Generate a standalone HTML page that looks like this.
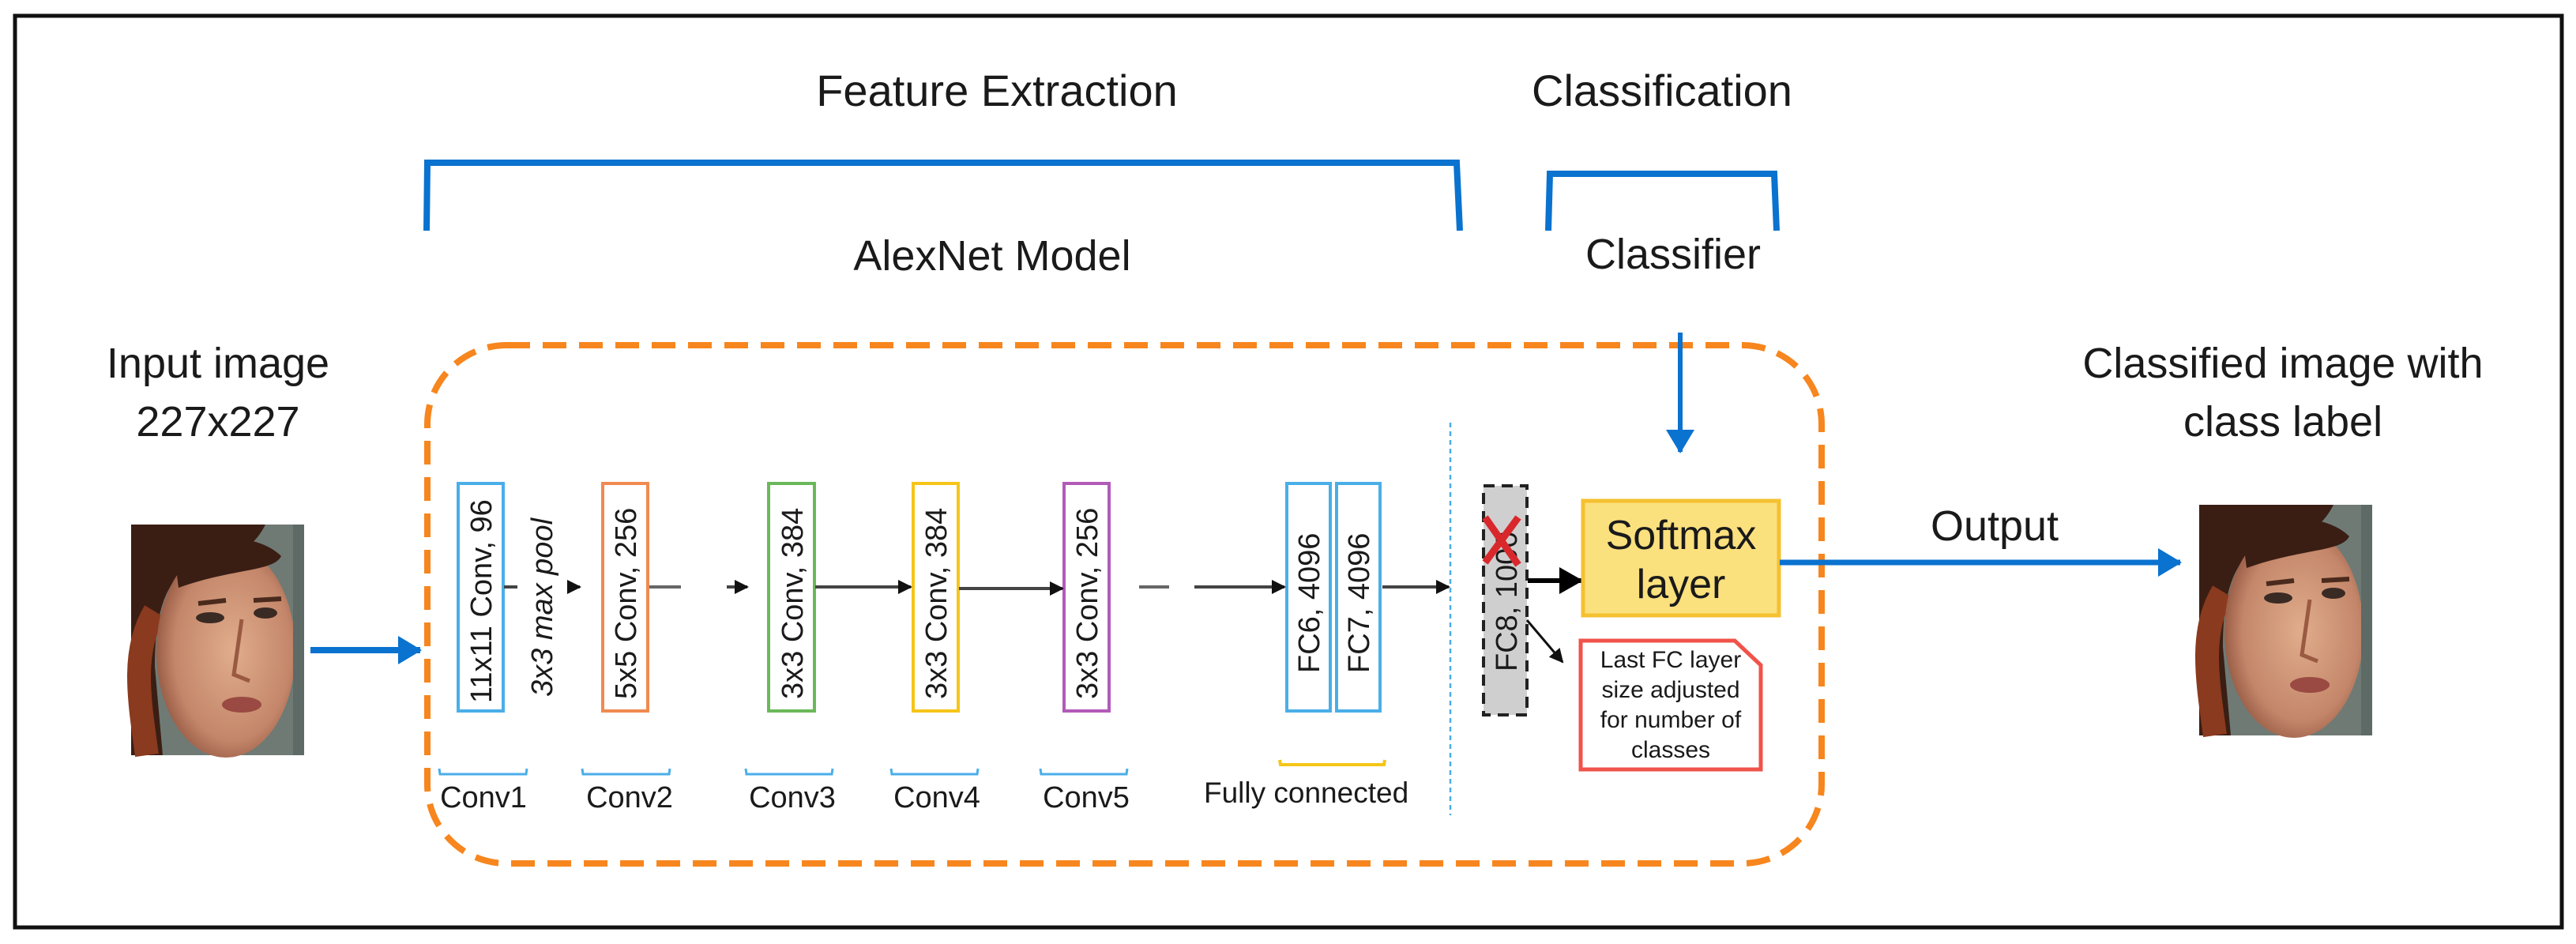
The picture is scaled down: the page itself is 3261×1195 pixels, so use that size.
<!DOCTYPE html>
<html><head><meta charset="utf-8"><style>
html,body{margin:0;padding:0;background:#fff;}
svg{display:block;}
text{font-family:"Liberation Sans",sans-serif;fill:#1a1a1a;}
</style></head><body>
<svg width="3261" height="1195" viewBox="0 0 3261 1195" xmlns="http://www.w3.org/2000/svg">
<defs>
<marker id="ab" markerWidth="10" markerHeight="10" refX="8" refY="5" orient="auto" markerUnits="userSpaceOnUse"><path d="M0,0 L10,5 L0,10 z" fill="#111"/></marker>
<marker id="abl" markerWidth="30" markerHeight="36" refX="28" refY="18" orient="auto" markerUnits="userSpaceOnUse"><path d="M0,0 L30,18 L0,36 z" fill="#0a72cf"/></marker>
<marker id="abk" markerWidth="30" markerHeight="34" refX="28" refY="17" orient="auto" markerUnits="userSpaceOnUse"><path d="M0,0 L30,17 L0,34 z" fill="#000"/></marker>
<marker id="ak" markerWidth="18" markerHeight="18" refX="16" refY="9" orient="auto" markerUnits="userSpaceOnUse"><path d="M0,0 L18,9 L0,18 z" fill="#111"/></marker>
<radialGradient id="skin" cx="0.55" cy="0.5" r="0.6"><stop offset="0" stop-color="#e0ad8c"/><stop offset="0.7" stop-color="#c4866a"/><stop offset="1" stop-color="#8a4f3a"/></radialGradient>
<g id="face">
<rect x="0" y="0" width="219" height="292" fill="#6f7a74"/>
<path d="M0,0 L170,0 C150,40 120,40 80,50 C40,70 30,120 30,180 L40,292 L0,292 z" fill="#3a1e14"/>
<path d="M20,292 C10,220 0,160 30,110" stroke="#8a3a1e" stroke-width="30" fill="none"/>
<ellipse cx="120" cy="160" rx="88" ry="135" fill="url(#skin)"/>
<path d="M55,40 C90,10 160,10 190,40 C180,60 130,55 60,80 z" fill="#3a1e14"/>
<ellipse cx="100" cy="118" rx="18" ry="7" fill="#3a2a24"/>
<ellipse cx="170" cy="112" rx="15" ry="7" fill="#3a2a24"/>
<path d="M85,100 L120,96" stroke="#4a2a1c" stroke-width="6"/>
<path d="M155,96 L190,94" stroke="#4a2a1c" stroke-width="6"/>
<path d="M140,120 L130,190 L150,198" stroke="#9a5a42" stroke-width="5" fill="none"/>
<ellipse cx="140" cy="228" rx="25" ry="10" fill="#9a4a42"/>
<rect x="205" y="0" width="14" height="292" fill="#5e6a66"/>
</g>
</defs>

<rect x="19" y="20" width="3224" height="1154" fill="none" stroke="#111" stroke-width="5"/>

<!-- titles -->
<text x="1262" y="134" font-size="56" text-anchor="middle">Feature Extraction</text>
<text x="2104" y="134" font-size="56" text-anchor="middle">Classification</text>
<path d="M540,292 L541,206 L1844,206 L1848,292" fill="none" stroke="#0a72cf" stroke-width="8"/>
<path d="M1960,292 L1962,220 L2246,220 L2249,292" fill="none" stroke="#0a72cf" stroke-width="8"/>
<text x="1256" y="342" font-size="54" text-anchor="middle">AlexNet Model</text>
<text x="2118" y="340" font-size="54" text-anchor="middle">Classifier</text>

<text x="276" y="478" font-size="54" text-anchor="middle">Input image</text>
<text x="276" y="552" font-size="54" text-anchor="middle">227x227</text>
<text x="2890" y="478" font-size="54" text-anchor="middle">Classified image with</text>
<text x="2890" y="552" font-size="54" text-anchor="middle">class label</text>

<use href="#face" x="166" y="664"/>
<use href="#face" x="2784" y="639"/>

<!-- orange dashed box -->
<rect x="541" y="437" width="1765" height="656" rx="100" ry="100" fill="none" stroke="#f7861e" stroke-width="8" stroke-dasharray="30,16"/>

<!-- input arrow -->
<line x1="393" y1="823" x2="532" y2="823" stroke="#0a72cf" stroke-width="8" marker-end="url(#abl)"/>

<!-- conv boxes -->
<g fill="#fff" stroke-width="4">
<rect x="580" y="612" width="57" height="288" stroke="#4aaee8"/>
<rect x="763" y="612" width="57" height="288" stroke="#f08a50"/>
<rect x="973" y="612" width="58" height="288" stroke="#6ab85a"/>
<rect x="1156" y="612" width="57" height="288" stroke="#f5c518"/>
<rect x="1347" y="612" width="57" height="288" stroke="#b25ab8"/>
<rect x="1629" y="612" width="55" height="288" stroke="#4aaee8"/>
<rect x="1692" y="612" width="55" height="288" stroke="#4aaee8"/>
</g>
<g font-size="38">
<text transform="translate(622,890) rotate(-90)">11x11 Conv, 96</text>
<text transform="translate(805,885) rotate(-90)">5x5 Conv, 256</text>
<text transform="translate(1016,885) rotate(-90)">3x3 Conv, 384</text>
<text transform="translate(1198,885) rotate(-90)">3x3 Conv, 384</text>
<text transform="translate(1389,885) rotate(-90)">3x3 Conv, 256</text>
<text transform="translate(1670,852) rotate(-90)">FC6, 4096</text>
<text transform="translate(1733,852) rotate(-90)">FC7, 4096</text>
<text transform="translate(699,882) rotate(-90)" font-style="italic">3x3 max pool</text>
</g>

<!-- connectors -->
<g stroke="#444" stroke-width="4" fill="none">
<line x1="638" y1="743" x2="655" y2="743"/>
<line x1="722" y1="743" x2="734" y2="743" marker-end="url(#ak)"/>
<line x1="822" y1="743" x2="862" y2="743" stroke="#666"/>
<line x1="920" y1="743" x2="946" y2="743" marker-end="url(#ak)"/>
<line x1="1032" y1="743" x2="1153" y2="743" marker-end="url(#ak)"/>
<line x1="1214" y1="745" x2="1345" y2="745" marker-end="url(#ak)"/>
<line x1="1442" y1="743" x2="1480" y2="743" stroke="#666"/>
<line x1="1512" y1="743" x2="1626" y2="743" marker-end="url(#ak)"/>
<line x1="1750" y1="743" x2="1834" y2="743" marker-end="url(#ak)"/>
</g>

<!-- small brackets -->
<g fill="none" stroke="#4aaee8" stroke-width="3">
<path d="M556,973 L557,980 L666,980 L667,973"/>
<path d="M737,973 L738,980 L847,980 L848,973"/>
<path d="M944,973 L945,980 L1053,980 L1054,973"/>
<path d="M1128,973 L1129,980 L1237,980 L1238,973"/>
<path d="M1317,973 L1318,980 L1426,980 L1427,973"/>
</g>
<path d="M1620,962 L1621,968 L1752,968 L1753,962" fill="none" stroke="#f5c518" stroke-width="4"/>
<g font-size="38">
<text x="612" y="1022" text-anchor="middle">Conv1</text>
<text x="797" y="1022" text-anchor="middle">Conv2</text>
<text x="1003" y="1022" text-anchor="middle">Conv3</text>
<text x="1186" y="1022" text-anchor="middle">Conv4</text>
<text x="1375" y="1022" text-anchor="middle">Conv5</text>
<text x="1524" y="1016" font-size="37">Fully connected</text>
</g>

<!-- dotted separator -->
<line x1="1836" y1="535" x2="1836" y2="1032" stroke="#4aaee8" stroke-width="2.5" stroke-dasharray="6,5"/>

<!-- FC8 -->
<rect x="1878" y="615" width="55" height="290" fill="#cfcfcf" stroke="#222" stroke-width="4" stroke-dasharray="14,9"/>
<text transform="translate(1920,850) rotate(-90)" font-size="38">FC8, 1000</text>
<path d="M1880,655 L1922,715 M1922,655 L1880,712" stroke="#d9282c" stroke-width="9"/>
<line x1="1934" y1="735" x2="2002" y2="735" stroke="#000" stroke-width="6" marker-end="url(#abk)"/>
<line x1="1933" y1="785" x2="1978" y2="838" stroke="#111" stroke-width="3" marker-end="url(#ak)"/>

<!-- Softmax -->
<rect x="2004" y="634" width="248" height="145" fill="#fbe07e" stroke="#f5c130" stroke-width="5"/>
<text x="2128" y="695" font-size="52" text-anchor="middle">Softmax</text>
<text x="2128" y="757" font-size="52" text-anchor="middle">layer</text>
<line x1="2127" y1="421" x2="2127" y2="572" stroke="#0a72cf" stroke-width="6" marker-end="url(#abl)"/>

<!-- note -->
<path d="M2001,811 L2196,811 L2229,842 L2229,974 L2001,974 z" fill="#fff" stroke="#f0534a" stroke-width="5"/>
<g font-size="30" text-anchor="middle">
<text x="2115" y="845">Last FC layer</text>
<text x="2115" y="883">size adjusted</text>
<text x="2115" y="921">for number of</text>
<text x="2115" y="959">classes</text>
</g>

<!-- output arrow -->
<line x1="2253" y1="712" x2="2760" y2="712" stroke="#0a72cf" stroke-width="7" marker-end="url(#abl)"/>
<text x="2525" y="684" font-size="54" text-anchor="middle">Output</text>
</svg>
</body></html>
